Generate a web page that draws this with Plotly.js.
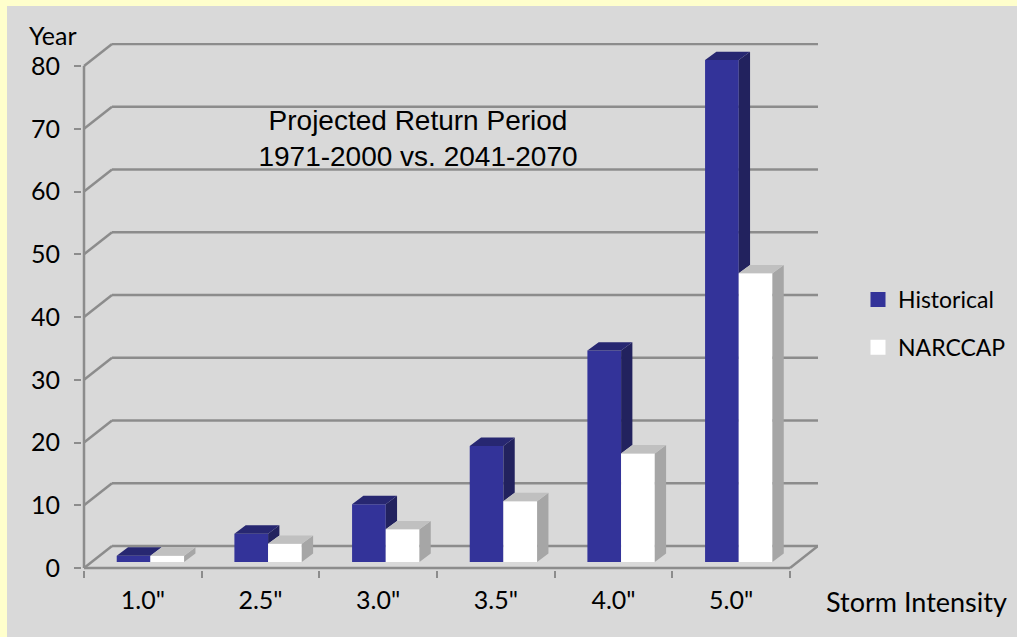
<!DOCTYPE html>
<html>
<head>
<meta charset="utf-8">
<script src="https://cdn.plot.ly/plotly-3.0.1.min.js"></script>
<style>
  html, body { margin: 0; padding: 0; background: #FFFFCC; width: 1017px; height: 637px; overflow: hidden; }
  #chart { position: absolute; left: 7px; top: 6px; width: 1010px; height: 631px; }
</style>
</head>
<body>
<div id="chart"></div>
<script>
// Return period (years) for each storm intensity
const categories = ['1.0"', '2.5"', '3.0"', '3.5"', '4.0"', '5.0"'];
const historical = [1, 4.5, 9.2, 18.5, 33.7, 80];
const narccap = [1, 2.9, 5.2, 9.7, 17.3, 46];
const yTickValues = [0, 10, 20, 30, 40, 50, 60, 70, 80];

// Canvas and plot-area geometry
const W = 1010, H = 631;
const margin = { l: 75, r: 199, t: 37, b: 67, autoexpand: false };
const plotW = W - margin.l - margin.r;
const plotH = H - margin.t - margin.b;
const xRange = [-0.517, 5.738];
const yRange = [-0.319, 83.67];
const paperX = px => (px - margin.l) / plotW;
const paperY = py => (H - margin.b - py) / plotH;

// Oblique "3-D" offsets, in data units
const wallDX = 0.238, wallDY = 3.506;  // depth of floor / back wall
const barDX = 0.0646, barDY = 0.956;   // bars stand part-way back on the floor
const topDX = 0.096, topDY = 1.339;    // depth of each bar
const barW = 0.2864;                    // bar width (category units)

const first = -0.5, last = categories.length - 0.5;
const gridColor = '#8c8c8c';
const histColor = '#333399', narcColor = '#ffffff';

// Back wall gridlines, side-wall diagonals, floor and front axis
const shapes = [];
function seg(x0, y0, x1, y1) {
  shapes.push({ type: 'line', layer: 'below', xref: 'x', yref: 'y',
    x0, y0, x1, y1, line: { color: gridColor, width: 2.5 } });
}
yTickValues.forEach(v => {
  seg(first + wallDX, v + wallDY, last + wallDX, v + wallDY);
  seg(first, v, first + wallDX, v + wallDY);
});
seg(first, 0, last, 0);
seg(last, 0, last + wallDX, wallDY);
seg(first, 0, first, yTickValues[yTickValues.length - 1]);

// Top and right-side faces of the bars as filled polygons
function faces(values, offset, hiddenBelow) {
  const top = { x: [], y: [] }, side = { x: [], y: [] };
  values.forEach((v, i) => {
    const xl = i + barDX + offset, xr = xl + barW;
    const b = barDY, h = b + v;
    top.x.push(xl, xr, xr + topDX, xl + topDX, xl, null);
    top.y.push(h, h, h + topDY, h + topDY, h, null);
    const s = hiddenBelow ? b + Math.min(v, hiddenBelow[i]) : b;
    side.x.push(xr, xr + topDX, xr + topDX, xr, xr, null);
    side.y.push(s, s + topDY, h + topDY, h, s, null);
  });
  return { top, side };
}
const hFaces = faces(historical, -barW, narccap);
const nFaces = faces(narccap, 0, null);

function poly(p, color) {
  return { type: 'scatter', mode: 'none', fill: 'toself', fillcolor: color,
    x: p.x, y: p.y, hoverinfo: 'skip', showlegend: false };
}
// Legend-only entries with a slightly larger swatch
function key(name, color, group) {
  return { type: 'bar', name, x: [null], y: [null], legendgroup: group,
    marker: { color, line: { color, width: 3 } }, hoverinfo: 'skip' };
}

const xPos = categories.map((c, i) => i + barDX);

const traces = [
  { type: 'bar', name: 'Historical', x: xPos, y: historical, base: barDY,
    offset: -barW, width: barW, marker: { color: histColor },
    legendgroup: 'h', showlegend: false, customdata: categories,
    hovertemplate: '%{customdata}: %{y}<extra>Historical</extra>' },
  { type: 'bar', name: 'NARCCAP', x: xPos, y: narccap, base: barDY,
    offset: 0, width: barW, marker: { color: narcColor },
    legendgroup: 'n', showlegend: false, customdata: categories,
    hovertemplate: '%{customdata}: %{y}<extra>NARCCAP</extra>' },
  key('Historical', histColor, 'h'),
  key('NARCCAP', narcColor, 'n'),
  poly(hFaces.side, '#22225e'),
  poly(hFaces.top, '#272771'),
  poly(nFaces.side, '#a6a6a6'),
  poly(nFaces.top, '#c0c0c0')
];

const labelFont = { family: 'Lato, "Open Sans", sans-serif', size: 25, color: '#000000' };

const layout = {
  width: W, height: H, margin,
  paper_bgcolor: '#d9d9d9', plot_bgcolor: 'rgba(0,0,0,0)',
  font: labelFont,
  barmode: 'overlay',
  title: {
    text: 'Projected Return Period<br>1971-2000 vs. 2041-2070',
    font: { family: '"Liberation Sans", Arial, sans-serif', size: 28, color: '#000000' },
    xref: 'container', yref: 'container',
    x: 411 / W, y: 1 - 124 / H, xanchor: 'center', yanchor: 'middle'
  },
  xaxis: {
    range: xRange, tickmode: 'array',
    tickvals: categories.map((c, i) => i), ticktext: categories,
    ticks: '', showgrid: false, zeroline: false, showline: false,
    ticklabelstandoff: 13, fixedrange: true,
    minor: { tickmode: 'array',
      tickvals: categories.map((c, i) => i - 0.5).concat([last]),
      ticks: 'outside', ticklen: 7, tickwidth: 2, tickcolor: gridColor, showgrid: false }
  },
  yaxis: {
    range: yRange, tickmode: 'array', tickvals: yTickValues,
    ticks: 'outside', ticklen: 7, tickwidth: 2, tickcolor: gridColor,
    showgrid: false, zeroline: false, showline: false,
    ticklabelstandoff: 9, fixedrange: true
  },
  shapes,
  showlegend: true,
  legend: {
    x: paperX(851), y: paperY(272), xanchor: 'left', yanchor: 'top',
    bgcolor: 'rgba(0,0,0,0)',
    font: { family: labelFont.family, size: 23, color: '#000000' },
    traceorder: 'grouped', tracegroupgap: 15
  },
  annotations: [
    { text: 'Year', xref: 'paper', yref: 'paper', x: paperX(45.5), y: paperY(29),
      xanchor: 'center', yanchor: 'middle', showarrow: false, font: labelFont },
    { text: 'Storm Intensity', xref: 'paper', yref: 'paper', x: paperX(909), y: paperY(595),
      xanchor: 'center', yanchor: 'middle', showarrow: false,
      font: { family: labelFont.family, size: 27, color: '#000000' } }
  ]
};

Plotly.newPlot('chart', traces, layout, { displayModeBar: false, responsive: false });
</script>
</body>
</html>
